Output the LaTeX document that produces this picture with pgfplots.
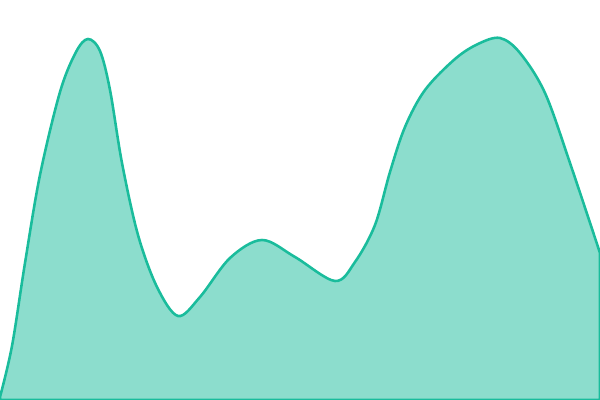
\documentclass[border=0pt]{standalone}
\usepackage{pgfplots}
\pgfplotsset{compat=1.18}
\definecolor{turq}{HTML}{1ABC9C}
\begin{document}
\begin{tikzpicture}
\begin{axis}[
  width=9cm, height=6cm, scale only axis,
  xmin=0, xmax=600, ymin=0, ymax=400,
  hide axis, clip=true,
]
\path (rel axis cs:0,0) rectangle (rel axis cs:1,1);
\addplot[draw=turq, line width=1.1pt, fill=turq, fill opacity=0.5, draw opacity=1, smooth, tension=0.55] coordinates {
(0,3) (12,54) (25,137) (40,225) (60,308) (76,348) (88,361) (100,349) (110,310) (122,237) (138,165)
(157,113) (178,84) (200,103) (230,142) (262,160) (295,143) (335,119) (355,138) (375,175) (390,228)
(405,273) (425,310) (455,341) (478,356) (500,362) (520,347) (545,307) (570,237) (600,147)
} \closedcycle;
\end{axis}
\end{tikzpicture}
\end{document}
